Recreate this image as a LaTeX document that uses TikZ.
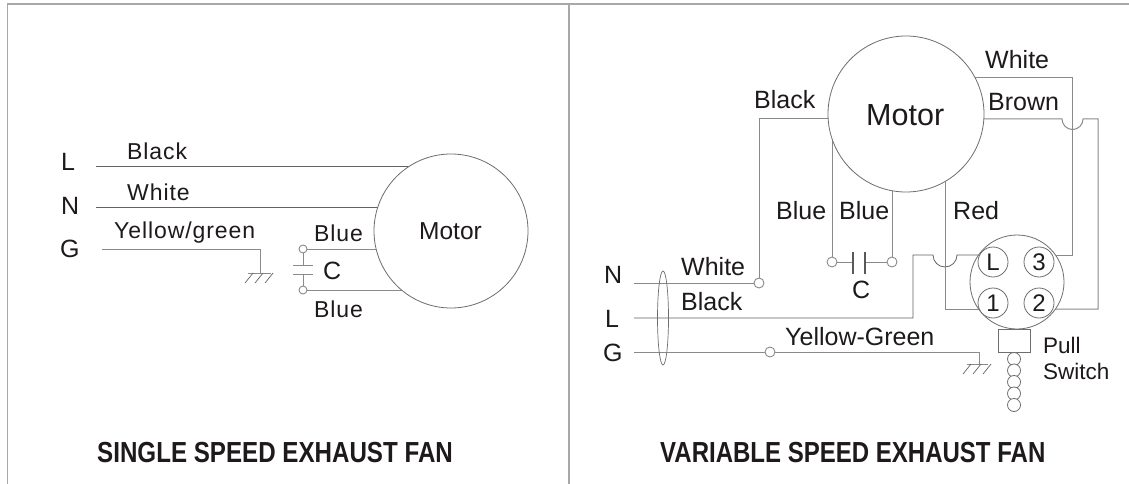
\documentclass[tikz,border=0pt]{standalone}
\usepackage{fontspec}
\setmainfont{Liberation Sans}
\newfontfamily\spacedfont[LetterSpace=4]{Liberation Sans}
\usetikzlibrary{backgrounds,shapes.geometric}
\definecolor{wire}{HTML}{8A8A8A}
\definecolor{frame}{HTML}{A8A8A8}
\definecolor{ink}{HTML}{1E1A1B}
\tikzset{
  x=1pt,y=-1pt,
  wireline/.style={draw=wire,line width=1pt},
  thinwire/.style={draw=wire!70!black,line width=.8pt},
  framepart/.style={draw=frame,line width=1.8pt},
  round/.style={circle,draw=wire!80!black,line width=.8pt,fill=white,inner sep=0pt,minimum size=#1},
  terminal/.style={circle,draw=wire,line width=.9pt,fill=white,inner sep=0pt,minimum size=9pt},
  labelsm/.style={inner sep=0pt,text=ink,font=\fontsize{23}{23}\selectfont\spacedfont,anchor=base west},
  labelbig/.style={inner sep=0pt,text=ink,font=\fontsize{25}{25}\selectfont,anchor=base west},
  titletext/.style={inner sep=0pt,text=ink,font=\fontsize{29}{29}\selectfont\bfseries,anchor=base west},
  digit/.style={round=30pt,font=\fontsize{24}{24}\selectfont,text=ink},
  plate/.style={draw=black!65,line width=2pt},
}
\begin{document}
\begin{tikzpicture}
\useasboundingbox (0,0) rectangle (1129,484);
\begin{scope}[on background layer]
\fill[white] (0,0) rectangle (1129,484);
\end{scope}
% frame
\coordinate (tl) at (7.5,4); \coordinate (tr) at (1129,4);
\coordinate (bl) at (7.5,484);
\coordinate (dt) at (569,4); \coordinate (db) at (569,484);
\draw[framepart] (bl) -- (tl) -- (tr);
\draw[framepart,line width=2.2pt] (dt) -- (db);

%% LEFT PANEL
\node[round=154pt] (motorA) at (451,231) {};
\node[labelbig,font=\fontsize{24.5}{24.5}\selectfont] (motorAt) at (419,239) {Motor};
\node[labelbig] (tL) at (61,170) {L};
\node[labelbig] (tN) at (61,214) {N};
\node[labelbig] (tG) at (60,257) {G};
\node[labelsm] (lb) at (127,159) {Black};
\node[labelsm] (lw) at (127,200) {White};
\node[labelsm] (ly) at (114,238) {Yellow/green};
\node[labelsm] (lb1) at (314,241) {Blue};
\node[labelsm] (lb2) at (314,317) {Blue};
\node[labelbig] (lc) at (323,279) {C};
\coordinate (aL) at (96,166);
\coordinate (aN) at (96,207);
\coordinate (aG) at (102,249);
\coordinate (aGc) at (260,249);
\coordinate (aGb) at (260,273);
\node[terminal,minimum size=8pt] (capT) at (303,249) {};
\node[terminal,minimum size=8pt] (capB) at (303,290) {};
\coordinate (p1) at (303,265); \coordinate (p2) at (303,274);
\begin{scope}[on background layer]
\draw[thinwire] (aL) -- (aL -| motorA.center);
\draw[thinwire] (aN) -- (aN -| motorA.center);
\draw[wireline] (capT) -- (capT -| motorA.center);
\draw[wireline] (capB) -- (capB -| motorA.center);
\end{scope}
\draw[wireline] (aG) -- (aGc) -- (aGb);
\draw[wireline] (248,273) -- (271,273);
\foreach \xx in {253,263,273} \draw[thinwire,line width=.7pt] (\xx,273) -- (\xx-8,283);
\draw[wireline] (capT) -- (p1);
\draw[wireline] (capB) -- (p2);
\draw[wireline] (293,265) -- (313,265);
\draw[wireline] (293,274) -- (313,274);
\node[titletext] (titleA) at (97,462) {\scalebox{0.833}[1]{SINGLE SPEED EXHAUST FAN}};

%% RIGHT PANEL
\node[round=156pt] (motorB) at (906,114) {};
\node[labelbig,font=\fontsize{30.5}{30.5}\selectfont] (motorBt) at (866,125) {Motor};
\node[round=94pt] (sw) at (1017,282) {};
\node[digit] (tl1) at (993,262) {L};
\node[digit] (t3) at (1039,262) {3};
\node[digit] (t1) at (993,303) {1};
\node[digit] (t2) at (1039,303) {2};
\node[rectangle,draw=wire!80!black,line width=.9pt,minimum width=32pt,minimum height=23pt,inner sep=0pt,fill=white] (pull) at (1014,340.5) {};
\foreach \i/\yy in {1/359,2/370.5,3/382,4/393.5,5/405}
  \node[round=13pt] (ch\i) at (1014,\yy) {};
\node[labelbig] (rN) at (604,283) {N};
\node[labelbig] (rL) at (605,327) {L};
\node[labelbig] (rG) at (603,361) {G};
\node[labelbig] (rw) at (681,275) {White};
\node[labelbig] (rb) at (681,310) {Black};
\node[labelbig] (ry) at (785,345) {Yellow-Green};
\node[labelbig] (rbk) at (754,109) {Black};
\node[labelbig] (rwh) at (985,69) {White};
\node[labelbig] (rbr) at (988,111) {Brown};
\node[labelbig] (rbl1) at (776,219) {Blue};
\node[labelbig] (rbl2) at (839,219) {Blue};
\node[labelbig] (rrd) at (953,219) {Red};
\node[labelbig] (rc) at (852,298) {C};
\node[labelbig,font=\fontsize{22.5}{22.5}\selectfont] (rp) at (1043,353) {Pull};
\node[labelbig,font=\fontsize{22.5}{22.5}\selectfont] (rs) at (1043,379) {Switch};
\node[terminal,minimum size=10pt] (tNr) at (759,283) {};
\node[terminal,minimum size=10pt] (tYG) at (770,352) {};
\node[terminal,minimum size=10pt] (cA) at (832,262) {};
\node[terminal,minimum size=10pt] (cB) at (892,262) {};
\coordinate (sN) at (634,283); \coordinate (sL) at (634,318); \coordinate (sG) at (634,352);
\coordinate (bkc) at (759,119);
\coordinate (gd) at (979,352); \coordinate (gb) at (979,364);
\coordinate (l1) at (913,318); \coordinate (l2) at (913,255);
\coordinate (j1a) at (933,255); \coordinate (j1b) at (957,255);
\coordinate (rd1) at (945,309);
\coordinate (whc) at (1072,78); \coordinate (whd) at (1072,255);
\coordinate (j2a) at (1062,119); \coordinate (j2b) at (1083,119);
\coordinate (brc) at (1098,119); \coordinate (brd) at (1098,309);
\coordinate (capl) at (853,262); \coordinate (capr) at (865,262);
\begin{scope}[on background layer]
\draw[wireline] (sN) -- (tNr);
\draw[thinwire] (sL) -- (l1) -- (l2) -- (j1a) arc[start angle=180,end angle=0,radius=12] -- (j1b -| sw.center);
\draw[wireline] (sG) -- (tYG) -- (gd) -- (gb);
\draw[wireline] (tNr) -- (bkc) -- (bkc -| motorB.center);
\draw[wireline] (cA) -- (cA |- motorB.center);
\draw[wireline] (cB) -- (cB |- motorB.center);
\draw[wireline] (rd1 |- motorB.center) -- (rd1) -- (rd1 -| sw.center);
\draw[wireline] (whc -| motorB.center) -- (whc) -- (whd) -- (whd -| sw.center);
\draw[wireline] (j2a -| motorB.center) -- (j2a) arc[start angle=180,end angle=0,radius=10.5] -- (brc) -- (brd) -- (brd -| sw.center);
\draw[wireline] (cA) -- (capl);
\draw[wireline] (capr) -- (cB);
\end{scope}
\draw[plate] (853,252) -- (853,274);
\draw[plate] (865,252) -- (865,274);
\draw[wireline] (967,364) -- (988,364);
\foreach \xx in {971,981,991} \draw[thinwire,line width=.7pt] (\xx,364) -- (\xx-8,374);
\node[ellipse,draw=wire!80!black,line width=.7pt,minimum width=11pt,minimum height=94pt,inner sep=0pt] (cable) at (663,318) {};
\node[titletext] (titleB) at (660,462) {\scalebox{0.828}[1]{VARIABLE SPEED EXHAUST FAN}};
\end{tikzpicture}
\end{document}
